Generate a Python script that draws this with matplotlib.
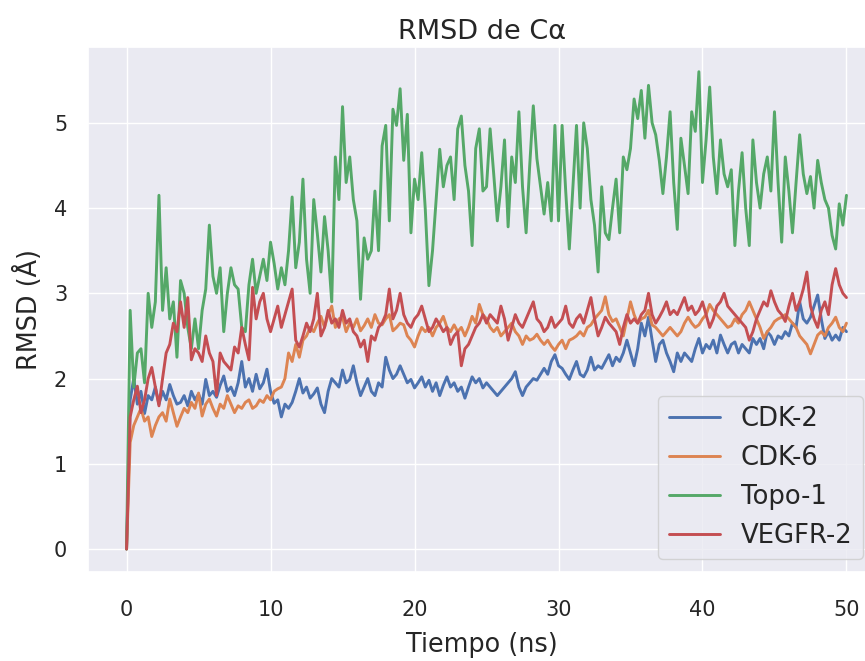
import numpy as np
import matplotlib
matplotlib.use("Agg")
import matplotlib.pyplot as plt
import seaborn as sns

# valores de RMSD (Å) leídos cada 0.25 ns, de 0 a 50 ns
cdk2 = [
    0.0, 1.75, 2.0, 1.7, 1.85, 1.59, 1.8, 1.75, 1.9, 1.7, 1.85, 1.75, 1.93, 1.8, 1.7, 1.72, 1.8, 1.68, 1.85, 1.75,
    1.82, 1.7, 1.99, 1.8, 1.85, 1.78, 1.92, 2.03, 1.85, 1.9, 1.8, 1.95, 2.2, 1.9, 2.0, 1.85, 2.05, 1.88, 1.95, 2.11,
    1.85, 1.71, 1.75, 1.55, 1.7, 1.65, 1.72, 1.85, 2.0, 1.83, 1.9, 1.77, 1.82, 1.89, 1.7, 1.6, 1.85, 2.0, 1.95, 1.9,
    2.1, 1.95, 1.99, 2.15, 1.95, 1.8, 1.9, 2.0, 1.85, 1.8, 1.95, 1.9, 2.25, 2.1, 2.0, 2.05, 2.15, 2.05, 1.95, 1.99,
    1.89, 1.95, 2.02, 1.9, 1.98, 1.85, 1.95, 1.8, 1.92, 2.02, 1.9, 1.95, 1.85, 1.9, 1.77, 1.9, 2.02, 1.95, 2.0, 1.89,
    1.95, 1.9, 1.85, 1.8, 1.85, 1.9, 1.95, 2.0, 2.08, 1.9, 1.8, 1.9, 1.95, 2.0, 1.98, 2.05, 2.12, 2.05, 2.2, 2.28,
    2.15, 2.12, 2.05, 1.99, 2.1, 2.2, 2.05, 2.02, 2.1, 2.25, 2.1, 2.15, 2.12, 2.2, 2.28, 2.15, 2.25, 2.2, 2.3, 2.45,
    2.3, 2.15, 2.35, 2.65, 2.5, 2.72, 2.45, 2.2, 2.4, 2.45, 2.3, 2.2, 2.08, 2.3, 2.2, 2.3, 2.25, 2.2, 2.35, 2.47,
    2.3, 2.4, 2.35, 2.45, 2.3, 2.51, 2.4, 2.3, 2.4, 2.43, 2.3, 2.4, 2.35, 2.3, 2.47, 2.4, 2.47, 2.35, 2.55, 2.5,
    2.4, 2.5, 2.47, 2.55, 2.5, 2.65, 2.6, 2.9, 2.7, 2.65, 2.72, 2.85, 2.98, 2.7, 2.47, 2.55, 2.45, 2.51, 2.45, 2.6,
    2.55,
]
cdk6 = [
    0.0, 1.25, 1.45, 1.55, 1.65, 1.5, 1.55, 1.32, 1.45, 1.55, 1.6, 1.5, 1.76, 1.6, 1.44, 1.55, 1.65, 1.6, 1.72, 1.65,
    1.83, 1.56, 1.7, 1.76, 1.65, 1.56, 1.7, 1.65, 1.8, 1.7, 1.6, 1.68, 1.65, 1.72, 1.75, 1.65, 1.68, 1.75, 1.72, 1.8,
    1.75, 1.85, 1.88, 1.9, 2.0, 2.3, 2.2, 2.4, 2.25, 2.45, 2.5, 2.6, 2.55, 2.65, 2.73, 2.6, 2.75, 2.85, 2.6, 2.7,
    2.72, 2.55, 2.65, 2.6, 2.7, 2.56, 2.62, 2.7, 2.6, 2.75, 2.65, 2.63, 2.7, 2.75, 2.56, 2.6, 2.65, 2.63, 2.5, 2.45,
    2.37, 2.5, 2.6, 2.55, 2.6, 2.5, 2.6, 2.65, 2.73, 2.6, 2.55, 2.63, 2.55, 2.6, 2.5, 2.6, 2.73, 2.65, 2.87, 2.75,
    2.7, 2.6, 2.55, 2.6, 2.5, 2.55, 2.6, 2.65, 2.55, 2.5, 2.4, 2.5, 2.45, 2.47, 2.52, 2.45, 2.4, 2.45, 2.38, 2.33,
    2.4, 2.45, 2.35, 2.45, 2.47, 2.5, 2.55, 2.5, 2.6, 2.63, 2.7, 2.75, 2.8, 2.96, 2.75, 2.67, 2.7, 2.6, 2.5, 2.7,
    2.9, 2.75, 2.65, 2.7, 2.72, 2.8, 2.63, 2.6, 2.55, 2.5, 2.55, 2.6, 2.55, 2.5, 2.55, 2.65, 2.72, 2.65, 2.6, 2.63,
    2.7, 2.75, 2.87, 2.8, 2.75, 2.7, 2.65, 2.6, 2.62, 2.7, 2.65, 2.75, 2.8, 2.9, 2.8, 2.7, 2.6, 2.47, 2.55, 2.6,
    2.67, 2.7, 2.72, 2.75, 2.7, 2.65, 2.6, 2.5, 2.45, 2.4, 2.29, 2.4, 2.51, 2.55, 2.5, 2.6, 2.65, 2.72, 2.6, 2.55,
    2.65,
]
topo1 = [
    0.0, 2.8, 1.9, 2.3, 2.35, 1.95, 3.0, 2.6, 2.9, 4.15, 2.8, 3.3, 2.7, 2.9, 2.25, 3.15, 3.0, 2.6, 2.35, 2.7,
    2.35, 2.8, 3.05, 3.8, 3.2, 3.0, 3.3, 2.55, 3.0, 3.3, 3.1, 3.05, 2.6, 2.55, 3.1, 3.4, 3.0, 3.2, 3.4, 3.15,
    3.6, 3.35, 3.05, 3.3, 3.1, 3.5, 4.13, 3.3, 3.6, 4.34, 3.4, 3.0, 4.1, 3.7, 3.25, 3.9, 3.5, 2.9, 4.6, 4.1,
    5.19, 4.3, 4.6, 4.1, 3.85, 2.93, 3.65, 3.4, 3.5, 4.2, 3.5, 4.73, 4.97, 3.85, 5.16, 4.97, 5.4, 4.56, 5.1, 3.71,
    4.34, 4.1, 4.65, 3.98, 3.09, 3.5, 4.1, 4.69, 4.25, 4.5, 4.6, 4.1, 4.93, 5.08, 4.5, 4.2, 3.56, 4.7, 4.93, 4.2,
    4.25, 4.93, 4.4, 3.85, 4.25, 4.8, 3.78, 4.6, 4.3, 5.13, 4.25, 3.71, 4.5, 5.2, 4.58, 4.25, 3.93, 4.3, 3.85, 4.97,
    3.85, 4.97, 4.2, 3.52, 4.25, 4.97, 4.0, 5.0, 4.7, 4.1, 3.8, 3.25, 4.25, 3.71, 3.63, 4.0, 4.34, 3.71, 4.6, 4.45,
    4.7, 5.28, 5.05, 5.38, 4.82, 5.44, 5.0, 4.86, 4.56, 4.17, 4.6, 5.13, 4.3, 3.75, 4.82, 4.5, 4.17, 5.13, 4.9, 5.6,
    4.3, 4.8, 5.42, 4.6, 4.17, 4.8, 4.4, 4.25, 4.45, 3.56, 4.2, 4.65, 4.0, 3.56, 4.8, 4.3, 4.0, 4.4, 4.6, 4.2,
    5.13, 4.3, 3.6, 4.6, 4.2, 3.71, 4.3, 4.86, 4.4, 4.17, 4.37, 4.0, 4.56, 4.3, 4.1, 4.0, 3.68, 3.52, 4.05, 3.8,
    4.15,
]
vegfr2 = [
    0.0, 1.55, 1.75, 1.91, 1.6, 1.75, 2.0, 2.13, 1.9, 1.68, 2.0, 2.3, 2.4, 2.65, 2.55, 2.9, 2.6, 2.95, 2.22, 2.35,
    2.3, 2.2, 2.5, 2.3, 2.2, 1.8, 2.3, 2.2, 2.15, 2.1, 2.37, 2.3, 2.6, 2.4, 2.22, 3.07, 2.7, 2.9, 3.0, 2.7,
    2.55, 2.7, 2.85, 2.6, 2.75, 2.9, 3.05, 2.45, 2.37, 2.5, 2.65, 2.55, 2.7, 3.0, 2.5, 2.6, 2.8, 2.65, 2.7, 2.6,
    2.8, 2.65, 2.7, 2.55, 2.5, 2.37, 2.45, 2.2, 2.5, 2.45, 2.6, 2.65, 2.75, 3.05, 2.7, 2.8, 3.0, 2.75, 2.65, 2.6,
    2.7, 2.75, 2.85, 2.7, 2.55, 2.6, 2.7, 2.63, 2.55, 2.6, 2.4, 2.5, 2.55, 2.15, 2.35, 2.4, 2.5, 2.6, 2.65, 2.75,
    2.65, 2.75, 2.7, 2.65, 2.85, 2.7, 2.45, 2.6, 2.75, 2.65, 2.6, 2.7, 2.8, 2.9, 2.7, 2.65, 2.55, 2.6, 2.72, 2.6,
    2.65, 2.7, 2.85, 2.65, 2.6, 2.7, 2.75, 2.65, 2.8, 2.95, 2.7, 2.5, 2.6, 2.72, 2.65, 2.6, 2.55, 2.4, 2.6, 2.75,
    2.65, 2.7, 2.65, 2.75, 2.8, 3.0, 2.75, 2.65, 2.72, 2.8, 2.9, 2.75, 2.8, 2.75, 2.85, 2.95, 2.8, 2.85, 2.75, 2.8,
    2.9, 2.75, 2.6, 2.7, 2.85, 2.9, 3.0, 2.85, 2.8, 2.75, 2.7, 2.65, 2.6, 2.45, 2.55, 2.7, 2.8, 2.9, 2.85, 3.03,
    2.9, 2.8, 2.75, 2.67, 2.85, 3.0, 2.8, 2.9, 3.05, 3.25, 2.85, 2.7, 2.6, 2.8, 2.9, 2.75, 3.1, 3.29, 3.1, 3.0,
    2.95,
]

series = [cdk2, cdk6, topo1, vegfr2]
labels = ["CDK-2", "CDK-6", "Topo-1", "VEGFR-2"]

sns.set_theme(style="darkgrid")
plt.rcParams["font.family"] = ["DejaVu Sans"]

fig = plt.figure(figsize=(8.65, 6.61), dpi=100)
# el eje sobresale un poco a la derecha, como en la imagen original (recortada)
ax = fig.add_axes([0.1017, 0.1346, 0.911, 0.7943])

for y, lab in zip(series, labels):
    t = np.linspace(0, 50, len(y))  # tiempo en ns
    ax.plot(t, y, label=lab, linewidth=2.1)

ax.set_xlim(-2.68, 52.05)
ax.set_ylim(-0.27, 5.89)
ax.tick_params(axis="x", labelsize=15, pad=14)
ax.tick_params(axis="y", labelsize=15, pad=9)
ax.set_title("RMSD de Cα", fontsize=19.5)
ax.set_xlabel("Tiempo (ns)", fontsize=18.4, labelpad=9)
ax.set_ylabel("RMSD (Å)", fontsize=18.4, labelpad=8)
ax.legend(loc="lower right", fontsize=18.6)

fig.savefig("out.png", dpi=100)
